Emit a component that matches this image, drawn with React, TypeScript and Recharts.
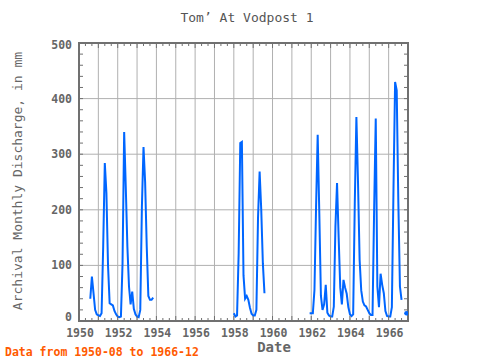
import React from "react"
import { LineChart, Line, XAxis, YAxis, CartesianGrid, ReferenceArea } from "recharts"

// monthly discharge (mm), Jan..Dec, null = no record
const YEARS = [1950, 1951, 1952, 1953, 1954, 1955, 1956, 1957, 1958, 1959, 1960, 1961, 1962, 1963, 1964, 1965, 1966]
const Q1950 = [null, null, null, null, null, null, null, 40, 80, 50, 20, 12]
const Q1951 = [10, 9, 14, 134, 284, 230, 100, 32, 30, 28, 18, 12]
const Q1952 = [8, 7, 8, 104, 340, 241, 134, 62, 30, 53, 22, 12]
const Q1953 = [8, 7, 20, 205, 313, 250, 134, 45, 38, 38, 42, null]
const EMPTY = [null, null, null, null, null, null, null, null, null, null, null, null]
const Q1958 = [14, 8, 10, 122, 320, 322, 82, 40, 45, 38, 24, 13]
const Q1959 = [10, 10, 20, 185, 269, 200, 104, 50, null, null, null, null]
const Q1961 = [null, null, null, null, null, null, null, null, null, null, null, 14]
const Q1962 = [14, 14, 56, 205, 335, 194, 45, 20, 30, 65, 15, 10]
const Q1963 = [8, 8, 26, 170, 248, 150, 60, 30, 74, 60, 49, 25]
const Q1964 = [12, 9, 12, 211, 367, 250, 110, 55, 35, 28, 26, 20]
const Q1965 = [14, 11, 11, 200, 364, 62, 25, 85, 65, 50, 18, 9]
const Q1966 = [8, 8, 25, 238, 430, 415, 215, 62, 38, null, null, 14]
const SERIES = [Q1950, Q1951, Q1952, Q1953, EMPTY, EMPTY, EMPTY, EMPTY, Q1958, Q1959, EMPTY, Q1961, Q1962, Q1963, Q1964, Q1965, Q1966]

const YEAR_LABELS = [1950, 1952, 1954, 1956, 1958, 1960, 1962, 1964, 1966]
const GRID_YEARS = [1951, 1952, 1953, 1954, 1955, 1956, 1957, 1958, 1959, 1960, 1961, 1962, 1963, 1964, 1965, 1966]
const Y_LABELS = [0, 100, 200, 300, 400, 500]
const Y_GRID = [100, 200, 300, 400]

const X_TICKS: number[] = []
for (let i = 0; i <= 17 * 3; i++) X_TICKS.push(1950 + i / 3)
const Y_TICKS: number[] = []
for (let v = 0; v <= 500; v += 20) Y_TICKS.push(v)

const flat: { t: number; q: number | null }[] = []
YEARS.forEach((yr, i) => {
  SERIES[i].forEach((v, m) => flat.push({ t: yr + m / 12, q: v }))
})
const data = flat.map((d, i) => ({
  ...d,
  iso: d.q != null && flat[i - 1]?.q == null && flat[i + 1]?.q == null,
}))

const W = 480
const H = 360
const M = { top: 43, right: 72, bottom: 0, left: 0 }
const PLOT_TOP = M.top
const PLOT_RIGHT = W - M.right
const FRAME = "#707070"
const TEXT = "#666"
const BLUE = "#0066ff"
const FONT = "'DejaVu Sans Mono', monospace"

function XTick(props: any) {
  const { x, y, payload } = props
  const v = payload.value
  const yr = Math.round(v)
  const isYear = Math.abs(v - yr) < 1e-6
  const len = isYear ? 5 : 3
  return (
    <g>
      <line x1={x} x2={x} y1={y} y2={y - len} stroke={FRAME} strokeWidth={1} />
      <line x1={x} x2={x} y1={PLOT_TOP} y2={PLOT_TOP + len} stroke={FRAME} strokeWidth={1} />
      {isYear && YEAR_LABELS.includes(yr) && (
        <text x={x + 1} y={y + 16} textAnchor="middle" fontSize={11.5} fontWeight="bold" fill={TEXT} fontFamily={FONT}>
          {yr}
        </text>
      )}
    </g>
  )
}

function YTick(props: any) {
  const { x, y, payload } = props
  const v = payload.value
  const len = 4
  // the bottom label sits a little higher so it clears the year labels
  const ly = v === 0 ? y - 4 : v === 500 ? y + 2 : y
  return (
    <g>
      <line x1={x} x2={x + len} y1={y} y2={y} stroke={FRAME} strokeWidth={1} />
      <line x1={PLOT_RIGHT} x2={PLOT_RIGHT - len} y1={y} y2={y} stroke={FRAME} strokeWidth={1} />
      {Y_LABELS.includes(v) && (
        <text x={x - 7} y={ly} dy="0.35em" textAnchor="end" fontSize={11.5} fontWeight="bold" fill={TEXT} fontFamily={FONT}>
          {v}
        </text>
      )}
    </g>
  )
}

function renderDot(p: any) {
  if (p.payload && p.payload.iso) {
    return <circle key={p.index} cx={p.cx} cy={p.cy} r={2.2} fill={BLUE} />
  }
  return <g key={p.index} />
}

export default function App() {
  return (
    <div style={{ position: "relative", width: W, height: H, background: "#fff" }}>
      <style>{"body{margin:0}"}</style>
      <LineChart width={W} height={H} data={data} margin={M}>
        <CartesianGrid stroke="#b0b0b0" verticalValues={GRID_YEARS} horizontalValues={Y_GRID} />
        <XAxis
          dataKey="t"
          type="number"
          domain={[1950, 1967]}
          ticks={X_TICKS}
          interval={0}
          tickSize={0}
          tickMargin={0}
          axisLine={false}
          tickLine={false}
          tick={<XTick />}
          height={39}
          allowDataOverflow
        />
        <YAxis
          type="number"
          domain={[0, 500]}
          ticks={Y_TICKS}
          interval={0}
          tickSize={0}
          tickMargin={0}
          axisLine={false}
          tickLine={false}
          tick={<YTick />}
          width={79}
          allowDataOverflow
        />
        <Line
          type="linear"
          dataKey="q"
          stroke={BLUE}
          strokeWidth={2}
          dot={renderDot}
          activeDot={false}
          connectNulls={false}
          isAnimationActive={false}
        />
        <ReferenceArea x1={1950} x2={1967} y1={0} y2={500} fill="none" stroke={FRAME} strokeWidth={2} />
      </LineChart>
      <svg width={W} height={H} style={{ position: "absolute", left: 0, top: 0, pointerEvents: "none" }}>
        <text x={247} y={17} dy="0.35em" textAnchor="middle" fontSize={13} fill="#555" fontFamily={FONT}>
          Tom’ At Vodpost 1
        </text>
        <text
          transform="rotate(-90)"
          x={-181}
          y={17}
          dy="0.35em"
          textAnchor="middle"
          fontSize={13}
          fill={TEXT}
          fontFamily={FONT}
        >
          Archival Monthly Discharge, in mm
        </text>
        <text x={274} y={347} dy="0.35em" textAnchor="middle" fontSize={14} fontWeight="bold" fill={TEXT} fontFamily={FONT}>
          Date
        </text>
        <text x={5} y={352} dy="0.35em" fontSize={11.5} fontWeight="bold" fill="#ff5a00" fontFamily={FONT}>
          Data from 1950-08 to 1966-12
        </text>
      </svg>
    </div>
  )
}
